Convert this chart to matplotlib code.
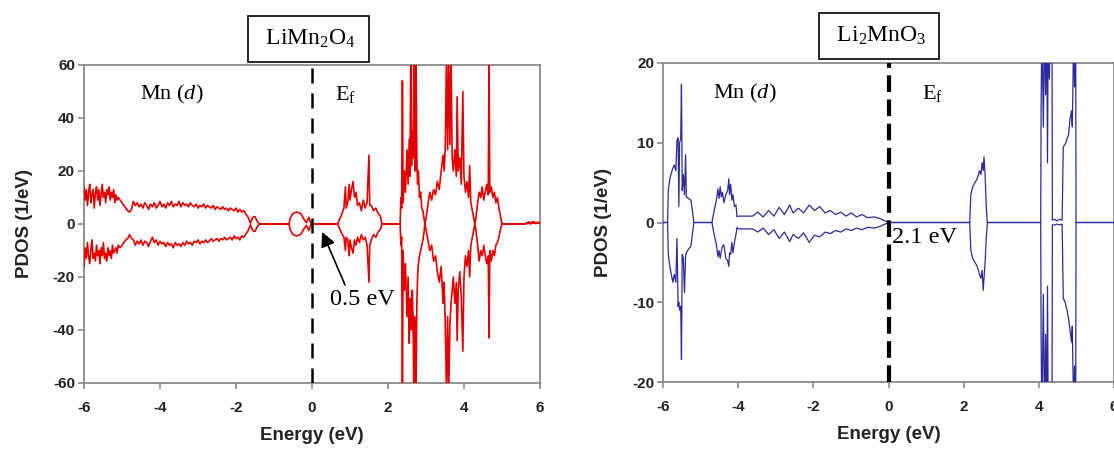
import matplotlib
matplotlib.use('Agg')
import matplotlib.pyplot as plt

plt.rcParams['mathtext.fontset'] = 'custom'
plt.rcParams['mathtext.rm'] = 'Liberation Serif'
plt.rcParams['mathtext.it'] = 'Liberation Serif:italic'

# LiMn2O4, Mn(d) PDOS (spin up / spin down)
limn_e = [-6.00, -5.97, -5.94, -5.91, -5.88, -5.85, -5.82, -5.79, -5.76, -5.73,
          -5.70, -5.67, -5.64, -5.61, -5.58, -5.55, -5.52, -5.49, -5.46, -5.43,
          -5.40, -5.37, -5.34, -5.31, -5.28, -5.25, -5.22, -5.19, -5.16, -5.13, -5.10,
          -5.05, -5.00, -4.95, -4.90, -4.85, -4.80, -4.75,
          -4.70, -4.65, -4.60, -4.55, -4.50, -4.45, -4.40, -4.35, -4.30, -4.25,
          -4.20, -4.15, -4.10, -4.05, -4.00, -3.95, -3.90, -3.85, -3.80, -3.75,
          -3.70, -3.65, -3.60, -3.55, -3.50, -3.45, -3.40, -3.35, -3.30, -3.25,
          -3.20, -3.15, -3.10, -3.05, -3.00, -2.95, -2.90, -2.85, -2.80, -2.75,
          -2.70, -2.65, -2.60, -2.55, -2.50, -2.45, -2.40, -2.35, -2.30, -2.25,
          -2.20, -2.15, -2.10, -2.05, -2.00, -1.95, -1.90, -1.85, -1.80, -1.75,
          -1.68, -1.62, -1.56, -1.50, -1.44, -1.38, -0.60, -0.58, -0.50, -0.40,
          -0.30, -0.22, -0.15, -0.08, -0.03, 0.02, 0.68,
          0.72, 0.78, 0.84, 0.88, 0.90, 0.94, 0.98, 1.00, 1.04, 1.08,
          1.12, 1.16, 1.20, 1.25, 1.30, 1.35, 1.40, 1.45, 1.50, 1.52,
          1.56, 1.62, 1.68, 1.74, 1.80, 1.84, 2.32,
          2.34, 2.36, 2.38, 2.40, 2.43, 2.46, 2.50, 2.53, 2.56, 2.58,
          2.60, 2.62, 2.64, 2.66, 2.68, 2.70, 2.72, 2.74, 2.76, 2.78,
          2.80, 2.83, 2.86, 2.89, 2.92, 2.95, 2.97,
          3.00, 3.05, 3.10, 3.15, 3.20, 3.25, 3.30, 3.35, 3.40, 3.45,
          3.48, 3.51, 3.54, 3.57, 3.60, 3.63, 3.66, 3.69, 3.72, 3.76,
          3.80, 3.82, 3.85, 3.89, 3.93, 3.97, 4.00, 4.04, 4.08, 4.12,
          4.15, 4.18, 4.22, 4.26, 4.29,
          4.32, 4.36, 4.40, 4.44, 4.48, 4.52, 4.56, 4.60, 4.64, 4.66,
          4.68, 4.72, 4.76, 4.80, 4.84, 4.88, 4.92, 4.96, 5.00,
          5.60, 5.70, 5.75, 5.80, 5.90, 6.00]
limn_up = [14, 9, 13, 7, 12, 15, 8, 11, 13, 6,
           12, 14, 9, 13, 7, 11, 15, 10, 12, 8,
           13, 11, 14, 9, 12, 10, 13, 8, 11, 9, 10,
           9, 8, 7, 6, 5, 4.5, 5.5,
           8.5, 7, 8, 6.5, 7.5, 6, 8, 7, 5.5, 7.5,
           6.5, 8, 6, 7, 8.5, 6.5, 7.5, 6, 8, 7,
           8.5, 6.5, 7.5, 7, 8.5, 6.5, 8, 7, 7.5, 6.5,
           8, 7, 6.5, 7.5, 6, 7, 6.5, 7.5, 6, 7,
           6.5, 6, 7, 5.5, 6.5, 6, 5.5, 6.5, 5.5, 6,
           5, 6, 5.5, 5, 6, 4.5, 5.5, 4.5, 5, 4,
           2.5, 0.3, 2.5, 2.8, 1, 0, 0, 2, 4, 4.5,
           4, 2, 0.5, 2.5, 0.3, 0, 0,
           1.5, 3.5, 6, 14, 6, 8, 15, 9, 13, 16,
           10, 12, 7, 8, 5, 9, 6, 8, 26, 7,
           7, 5, 6, 4, 3, 0, 0,
           10, 6, 54, 8, 20, 12, 28, 15, 32, 18,
           64, 22, 35, 25, 64, 30, 20, 64, 24, 15,
           20, 10, 12, 6, 5, 2, 0,
           2, 7, 12, 9, 13, 11, 16, 13, 20, 26,
           20, 30, 64, 28, 64, 30, 64, 25, 20, 28,
           18, 48, 20, 25, 15, 50, 18, 12, 16, 10,
           22, 8, 5, 2, 0,
           3, 8, 12, 10, 14, 9, 12, 15, 11, 64,
           12, 14, 10, 12, 8, 10, 6, 3, 0,
           0, 0.8, 0.3, 0.9, 0.5, 0.6]
limn_dn = [-16, -9, -13, -7, -12, -15, -10, -6, -13, -11,
           -14, -8, -12, -10, -15, -9, -12, -7, -13, -11,
           -14, -9, -12, -10, -13, -8, -11, -10, -9, -11, -8,
           -9, -8, -7, -6, -5.5, -4, -5.5,
           -6, -8, -6.5, -7.5, -6, -8, -6.5, -7, -8.5, -6.5,
           -5, -7, -6, -8, -6.5, -7.5, -7, -8.5, -7, -8,
           -7.5, -9, -7, -8, -7.5, -8.5, -7, -8, -6.5, -7.5,
           -7, -8, -6.5, -7, -6, -7.5, -6.5, -7, -6, -7,
           -6.5, -5.5, -6.5, -6, -5.5, -6.5, -5.5, -6, -5, -6,
           -5.5, -5, -6, -4.5, -5.5, -5, -6, -4.5, -5, -4,
           -2.5, -0.3, -2.5, -2.8, -1, 0, 0, -2, -4, -4.5,
           -4, -2, -0.5, -2.5, -0.3, 0, 0,
           -1.5, -3.5, -5, -10, -5, -6, -12, -6, -9, -11,
           -6, -8, -5, -7, -4, -6, -5, -8, -22, -8,
           -6, -4, -5, -3, -2, 0, 0,
           -8, -5, -64, -10, -25, -15, -35, -20, -45, -28,
           -30, -40, -25, -35, -64, -35, -40, -64, -30, -20,
           -15, -12, -10, -8, -6, -3, 0,
           -2, -6, -10, -8, -14, -12, -18, -22, -16, -30,
           -22, -40, -64, -35, -64, -38, -30, -25, -20, -30,
           -22, -44, -25, -18, -28, -48, -20, -12, -16, -10,
           -20, -8, -5, -2, 0,
           -3, -8, -14, -10, -12, -8, -12, -15, -12, -43,
           -10, -14, -10, -12, -8, -7, -5, -2, 0,
           0, 0.3, 0, 0.4, 0.2, 0.3]

# Li2MnO3, Mn(d) PDOS
li2_e = [-6.00, -5.88, -5.86, -5.82, -5.78, -5.74, -5.70, -5.66, -5.63, -5.60,
         -5.58, -5.56, -5.53, -5.51, -5.49, -5.46, -5.43, -5.40, -5.38, -5.32,
         -5.26, -5.22, -5.18,
         -4.70, -4.64, -4.58, -4.54, -4.51, -4.48, -4.45, -4.42, -4.38, -4.33,
         -4.28, -4.25, -4.23, -4.20, -4.17, -4.14, -4.10, -4.06, -4.03,
         -4.00, -3.62, -3.48, -3.34, -3.19, -3.05, -2.91, -2.77, -2.63, -2.54,
         -2.40, -2.26, -2.11, -1.97, -1.83, -1.69, -1.55, -1.41, -1.27, -1.13,
         -0.99, -0.85, -0.70, -0.56, -0.38, -0.23, -0.14, 0.00,
         2.16, 2.19, 2.24, 2.30, 2.36, 2.42, 2.46, 2.49, 2.52, 2.54,
         2.57, 2.60, 2.63,
         4.05, 4.06, 4.08, 4.12, 4.15, 4.18, 4.21, 4.23, 4.25, 4.28,
         4.30, 4.35, 4.36, 4.42, 4.48, 4.55, 4.62, 4.65, 4.70, 4.75,
         4.79, 4.83, 4.87, 4.89, 4.91, 4.93, 4.95, 4.97, 4.98, 4.99, 6.00]
li2_up = [0, 0, 4, 5.5, 6.2, 6.8, 7.2, 6.5, 10.3, 10.6,
          2, 10, 10.5, 17.3, 4, 6, 3.5, 8.5, 3.2, 3,
          2.8, 1.5, 0,
          0, 1.5, 2.8, 4.2, 3, 4.5, 3.2, 3.8, 2.5, 3.5,
          4, 5.5, 3.5, 4.8, 2.8, 3.5, 2, 2.2, 0.7,
          0.8, 0.8, 1.3, 0.7, 1.5, 0.8, 1.9, 1.0, 2.2, 1.2,
          1.8, 1.2, 2.2, 1.5, 2.0, 1.2, 1.5, 1.0, 1.3, 0.8,
          1.2, 0.7, 1.0, 0.6, 0.7, 0.5, 0.3, 0,
          0, 3.5, 4.5, 5, 5.5, 6.5, 6, 7.5, 6.5, 8.2,
          6, 2, 0,
          0, 14, 25, 12, 25, 16, 25, 7.5, 25, 18,
          25, 25, 0.3, 0.4, 0.2, 0.4, 0.3, 9.5, 9.8, 10.5,
          11, 13, 14, 12, 18, 25, 17, 25, 25, 0, 0]
li2_dn = [0, 0, -4, -5.5, -6.5, -7.5, -6.5, -7.5, -2, -10.5,
          -10, -11, -10.5, -17.2, -4, -4.5, -8.8, -4.2, -3.8, -3.3,
          -3, -1.5, 0,
          0, -1.5, -2.8, -4.3, -3.5, -4.5, -3.6, -3, -2.8, -4.5,
          -4.8, -5.5, -3.8, -4, -2.5, -3.8, -2.5, -1.5, -0.6,
          -0.8, -0.8, -1.2, -0.7, -1.5, -0.9, -2.0, -1.2, -2.4, -1.5,
          -2.0, -1.3, -2.5, -1.6, -1.8, -1.2, -1.4, -1.0, -1.2, -0.8,
          -1.0, -0.7, -0.9, -0.6, -0.7, -0.5, -0.3, 0,
          0, -3.5, -4.5, -5, -5.5, -6.5, -7, -6, -8.5, -7,
          -5, -2, 0,
          0, -14, -25, -9, -25, -14, -25, -8, -25, -25,
          -25, -25, -0.3, -0.3, -0.2, -0.3, -0.2, -9.5, -10, -11,
          -12, -13.5, -15, -13, -19, -25, -18, -25, -25, 0, 0]

xticks = [-6, -4, -2, 0, 2, 4, 6]
limn_yticks = [-60, -40, -20, 0, 20, 40, 60]
li2_yticks = [-20, -10, 0, 10, 20]

serif = 'Liberation Serif'
sans = 'Liberation Sans'

fig = plt.figure(figsize=(11.14, 4.5), dpi=100)
ax1 = fig.add_axes([0.0754, 0.1489, 0.4093, 0.7067])
ax2 = fig.add_axes([0.5952, 0.1511, 0.4048, 0.7089])


def style_axes(ax, yticks, ylim):
    ax.set_xlim(-6, 6)
    ax.set_ylim(*ylim)
    ax.set_xticks(xticks)
    ax.set_yticks(yticks)
    ax.set_xticklabels([str(t) for t in xticks], fontfamily=sans,
                       fontweight='bold', fontsize=11, color='#222222')
    ax.set_yticklabels([str(t) for t in yticks], fontfamily=sans,
                       fontweight='bold', fontsize=11, color='#222222')
    ax.tick_params(axis='x', direction='out', length=4, width=1.1,
                   color='#808080', pad=9)
    ax.tick_params(axis='y', direction='out', length=4, width=1.1,
                   color='#808080', pad=2.5)
    for s in ax.spines.values():
        s.set_color('#8a8a8a')
        s.set_linewidth(1.3)
    ax.set_xlabel('Energy (eV)', fontfamily=sans, fontweight='bold',
                  fontsize=13.5, color='#222222')
    ax.set_ylabel('PDOS (1/eV)', fontfamily=sans, fontweight='bold',
                  fontsize=13.5, color='#222222')
    ax.xaxis.set_label_coords(0.5, -0.138)
    ax.yaxis.set_label_coords(-0.112, 0.5)


# left panel
ax1.plot(limn_e, limn_up, color='#e50000', lw=1.2, zorder=3)
ax1.plot(limn_e, limn_dn, color='#e50000', lw=1.2, zorder=3)
ax1.axvline(0, color='black', lw=1.8, dashes=(6, 4), zorder=4)
style_axes(ax1, limn_yticks, (-60, 60))
ax1.text(-3.68, 49, 'Mn ($d$)', fontfamily=serif, fontsize=16,
         ha='center', va='center')
ax1.text(0.87, 49, 'E$_\\mathrm{f}$', fontfamily=serif, fontsize=16,
         ha='center', va='center')
ax1.annotate('', xy=(0.27, -3), xytext=(0.87, -23),
             arrowprops=dict(arrowstyle='-|>', color='black', lw=1.2,
                             mutation_scale=22, shrinkA=0, shrinkB=0))
ax1.text(1.34, -28.5, '0.5 eV', fontfamily=serif, fontsize=17.5,
         ha='center', va='center')

# right panel
ax2.plot(li2_e, li2_up, color='#2a2a9c', lw=0.9, zorder=3)
ax2.plot(li2_e, li2_dn, color='#2a2a9c', lw=0.9, zorder=3)
ax2.axvline(0, color='black', lw=3, dashes=(4, 1.8), zorder=4)
style_axes(ax2, li2_yticks, (-20, 20))
ax2.yaxis.set_label_coords(-0.113, 0.5)
ax2.text(-3.82, 16.2, 'Mn ($d$)', fontfamily=serif, fontsize=16,
         ha='center', va='center')
ax2.text(1.18, 16.2, 'E$_\\mathrm{f}$', fontfamily=serif, fontsize=16,
         ha='center', va='center')
ax2.text(0.1, -1.9, '2.1 eV', fontfamily=serif, fontsize=17.5,
         ha='left', va='center')

# compound labels in boxes above the panels
box = dict(boxstyle='square,pad=0.5', fc='white', ec='black', lw=1.2)
fig.text(0.277, 0.914, ' LiMn$_2$O$_4$ ', fontfamily=serif, fontsize=17,
         ha='center', va='center', bbox=box, zorder=10)
fig.text(0.789, 0.92, ' Li$_2$MnO$_3$ ', fontfamily=serif, fontsize=17,
         ha='center', va='center', bbox=box, zorder=10)

fig.savefig('out.png', dpi=100)
